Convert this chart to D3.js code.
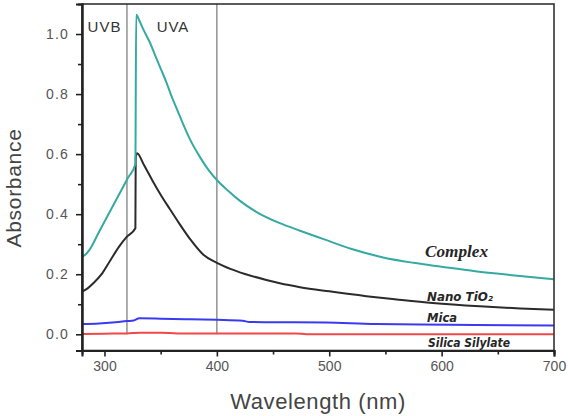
<!DOCTYPE html>
<html>
<head>
<meta charset="utf-8">
<script src="https://cdn.jsdelivr.net/npm/d3@7"></script>
<style>
  html, body { margin: 0; padding: 0; background: #fff; }
  svg { display: block; }
</style>
</head>
<body>
<svg id="chart" width="568" height="416"></svg>
<script>
// ---- data ----
const complexWl  = [280, 283, 286.6, 295, 305, 315, 321, 327.5, 328.2, 331, 335, 340, 345, 350, 355, 360, 365, 370, 376, 385, 392, 400, 410, 420, 435, 456, 474, 495, 520, 548, 575, 600, 630, 665, 700];
const complexAbs = [0.259, 0.265, 0.281, 0.34, 0.41, 0.48, 0.522, 0.566, 1.064, 1.045, 1.012, 0.975, 0.93, 0.885, 0.84, 0.79, 0.745, 0.70, 0.65, 0.59, 0.55, 0.514, 0.478, 0.446, 0.408, 0.37, 0.345, 0.317, 0.284, 0.256, 0.238, 0.225, 0.21, 0.196, 0.183];

const tio2Wl  = [280, 285, 290, 298, 305, 313, 320, 327.5, 327.8, 329, 335, 343, 350, 358, 366, 376, 388, 400, 412, 425, 444, 456, 474, 500, 533, 560, 592, 634, 670, 700];
const tio2Abs = [0.142, 0.153, 0.17, 0.203, 0.245, 0.292, 0.325, 0.353, 0.59, 0.603, 0.565, 0.51, 0.465, 0.418, 0.372, 0.318, 0.265, 0.238, 0.218, 0.201, 0.181, 0.17, 0.157, 0.143, 0.127, 0.116, 0.104, 0.093, 0.086, 0.082];

const micaWl  = [280, 295, 307, 320, 326, 331, 350, 376, 400, 423, 429, 460, 497, 541, 580, 630, 700];
const micaAbs = [0.034, 0.036, 0.039, 0.044, 0.046, 0.053, 0.052, 0.05, 0.048, 0.045, 0.041, 0.040, 0.039, 0.034, 0.033, 0.031, 0.029];

const silicaWl  = [280, 300, 320, 332, 350, 365, 400, 470, 480, 550, 620, 700];
const silicaAbs = [0.001, 0.002, 0.003, 0.005, 0.005, 0.003, 0.003, 0.003, 0.0, 0.0, 0.0, 0.0];

const seriesNames  = ["Silica Silylate", "Mica", "Nano TiO\u2082", "Complex"];
const seriesColors = ["#f04848", "#3a3af0", "#2b2b2b", "#35aaa2"];

const xTicksMajor = [300, 400, 500, 600, 700];
const xTicksMinor = [350, 450, 550, 650];
const yTicksMajor = [0.0, 0.2, 0.4, 0.6, 0.8, 1.0];
const yTicksMinor = [0.1, 0.3, 0.5, 0.7, 0.9];
const regionLines = [320, 400];
const regionNames = ["UVB", "UVA"];

// ---- layout ----
const svg = d3.select("#chart");
const W = 568, H = 416;
const m = { left: 82, top: 4, right: 14, bottom: 65.5 };
const x = d3.scaleLinear().domain([280, 700]).range([m.left, W - m.right]);
const y = d3.scaleLinear().domain([-0.054, 1.1]).range([H - m.bottom, m.top]);

// region lines
svg.append("g").selectAll("line").data(regionLines).join("line")
  .attr("x1", d => x(d)).attr("x2", d => x(d))
  .attr("y1", y(0)).attr("y2", y(1.1))
  .attr("stroke", "#8a8a8a").attr("stroke-width", 1.4);

// region labels
svg.append("g").selectAll("text").data(regionNames).join("text")
  .attr("x", (d, i) => i === 0 ? (x(280) + x(320)) / 2 : 173)
  .attr("y", 32)
  .attr("text-anchor", "middle")
  .attr("font-family", "Liberation Sans, Arial, sans-serif")
  .attr("font-size", 15)
  .attr("letter-spacing", 1)
  .attr("fill", "#333")
  .text(d => d);

// series lines
const series = [
  { wl: silicaWl, v: silicaAbs },
  { wl: micaWl, v: micaAbs },
  { wl: tio2Wl, v: tio2Abs },
  { wl: complexWl, v: complexAbs }
];
const line = d3.line().x(d => x(d[0])).y(d => y(d[1])).curve(d3.curveMonotoneX);
svg.append("g").selectAll("path").data(series).join("path")
  .attr("d", s => line(s.wl.map((w, i) => [w, s.v[i]])))
  .attr("fill", "none")
  .attr("stroke", (s, i) => seriesColors[i])
  .attr("stroke-width", 2)
  .attr("stroke-linejoin", "round");

// series labels
const labelPos = [
  { x: 428, y: 346.5, len: 82, font: "DejaVu Sans, sans-serif", size: 12 },
  { x: 427, y: 321.5, len: 30, font: "DejaVu Sans, sans-serif", size: 12 },
  { x: 427, y: 300.5, len: 66, font: "DejaVu Sans, sans-serif", size: 12 },
  { x: 425, y: 256.5, len: 63, font: "Liberation Serif, serif", size: 16 }
];
svg.append("g").selectAll("text").data(seriesNames).join("text")
  .attr("x", (d, i) => labelPos[i].x)
  .attr("y", (d, i) => labelPos[i].y)
  .attr("font-family", (d, i) => labelPos[i].font)
  .attr("font-size", (d, i) => labelPos[i].size)
  .attr("font-weight", "bold")
  .attr("font-style", "italic")
  .attr("fill", "#262626")
  .attr("textLength", (d, i) => labelPos[i].len)
  .attr("lengthAdjust", "spacingAndGlyphs")
  .text(d => d);

// frame
svg.append("rect")
  .attr("x", x(280)).attr("y", y(1.1))
  .attr("width", x(700) - x(280)).attr("height", y(-0.054) - y(1.1))
  .attr("fill", "none").attr("stroke", "#333").attr("stroke-width", 1.6);

// axes
const tickFont = "Liberation Sans, Arial, sans-serif";
const xAxis = svg.append("g").attr("transform", `translate(0,${y(-0.054)})`)
  .call(d3.axisBottom(x).tickValues(xTicksMajor).tickSize(6).tickPadding(5).tickFormat(d3.format("d")));
const xMinor = svg.append("g").attr("transform", `translate(0,${y(-0.054)})`)
  .call(d3.axisBottom(x).tickValues(xTicksMinor).tickSize(4).tickFormat(""));
const yAxis = svg.append("g").attr("transform", `translate(${x(280)},0)`)
  .call(d3.axisLeft(y).tickValues(yTicksMajor).tickSize(6).tickPadding(7).tickFormat(d3.format(".1f")));
const yMinor = svg.append("g").attr("transform", `translate(${x(280)},0)`)
  .call(d3.axisLeft(y).tickValues(yTicksMinor).tickSize(4).tickFormat(""));

[xAxis, xMinor, yAxis, yMinor].forEach(g => {
  g.select(".domain").attr("stroke", "#222").attr("stroke-width", 2);
  g.selectAll(".tick line").attr("stroke", "#222").attr("stroke-width", 1.6);
  g.selectAll(".tick text").attr("font-family", tickFont).attr("font-size", 14).attr("fill", "#555");
});
yAxis.selectAll(".tick text").attr("letter-spacing", 1.2);

// axis titles
svg.append("text")
  .attr("x", (x(280) + x(700)) / 2).attr("y", 409)
  .attr("text-anchor", "middle")
  .attr("font-family", tickFont).attr("font-size", 22).attr("letter-spacing", 0.6).attr("fill", "#444")
  .text("Wavelength (nm)");
svg.append("text")
  .attr("transform", `translate(${21},${188}) rotate(-90)`)
  .attr("text-anchor", "middle")
  .attr("font-family", tickFont).attr("font-size", 21).attr("letter-spacing", 0.7).attr("fill", "#444")
  .text("Absorbance");
</script>
</body>
</html>
